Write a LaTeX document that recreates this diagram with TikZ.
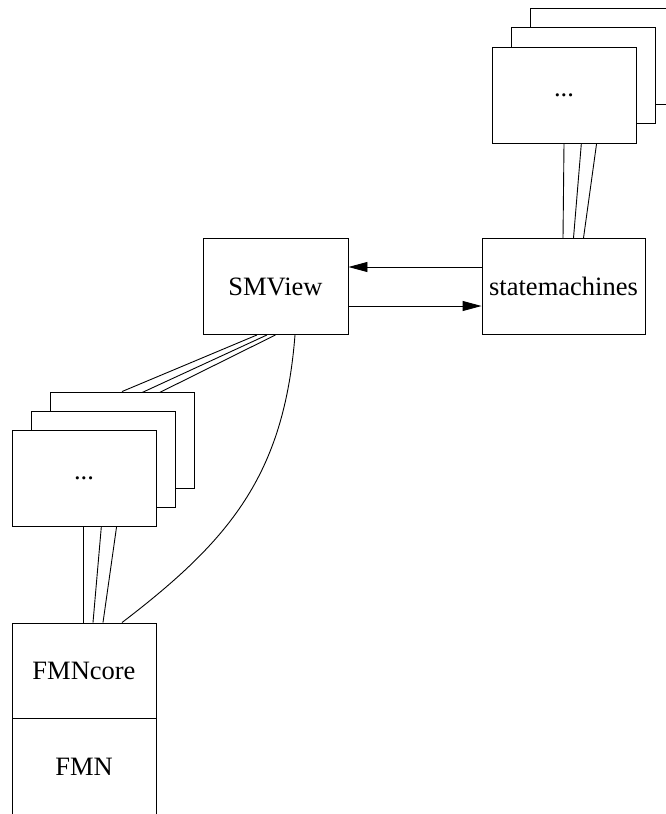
\documentclass[tikz,border=0pt]{standalone}
\usepackage{fontspec}
\setmainfont{Liberation Serif}
\usetikzlibrary{arrows.meta}
\pgfdeclarelayer{bg}
\pgfsetlayers{bg,main}
\begin{document}
\begin{tikzpicture}[x=1pt,y=-1pt,
  box/.style={draw,line width=0.9pt,fill=white,minimum width=144pt,minimum height=96pt,inner sep=0pt,
    font=\fontsize{26.5}{31}\selectfont},
  edge/.style={line width=0.9pt},
  arr/.style={line width=0.9pt,-{Triangle[length=19pt,width=10pt]}}]
\useasboundingbox (0,0) rectangle (665,814);
% upper stack
\node[box] (ts3) at (602,56) {};
\node[box] (ts2) at (583,75) {};
\node[box] (ts1) at (564,95) {...};
% lower stack
\node[box] (ls3) at (122,440) {};
\node[box] (ls2) at (103,459) {};
\node[box] (ls1) at (84,478.5) {...};
% main nodes
\node[box,minimum width=163pt] (sm) at (563.5,286.5) {statemachines};
\node[box,minimum width=145pt] (smv) at (275.5,286.5) {SMView};
\node[box,minimum height=95pt] (core) at (84,670.5) {FMNcore};
\node[box] (fmn) at (84,766.5) {FMN};
\begin{pgfonlayer}{bg}
\draw[edge] (ts1.south) -- ([xshift=-0.5pt]sm.north);
\draw[edge] (ts2.south) -- ([xshift=10pt]sm.north);
\draw[edge] (ts3.south) -- ([xshift=20pt]sm.north);
\draw[edge] (smv.south) -- (ls1.north);
\draw[edge] ([xshift=-8.5pt]smv.south) -- (ls2.north);
\draw[edge] ([xshift=-18.5pt]smv.south) -- (ls3.north);
\draw[edge] ([xshift=-1pt]ls1.south) -- ([xshift=-1pt]core.north);
\draw[edge] (ls2.south) -- ([xshift=9pt]core.north);
\draw[edge] (ls3.south) -- ([xshift=19pt]core.north);
\draw[edge] ([xshift=19.5pt]smv.south) .. controls (284,475) and (230,540) .. ([xshift=38pt]core.north);
\end{pgfonlayer}
\draw[arr] ([yshift=19.5pt]sm.west) -- ([yshift=19.5pt]smv.east);
\draw[arr] ([yshift=-19.5pt]smv.east) -- ([yshift=-19.5pt]sm.west);
\end{tikzpicture}
\end{document}
